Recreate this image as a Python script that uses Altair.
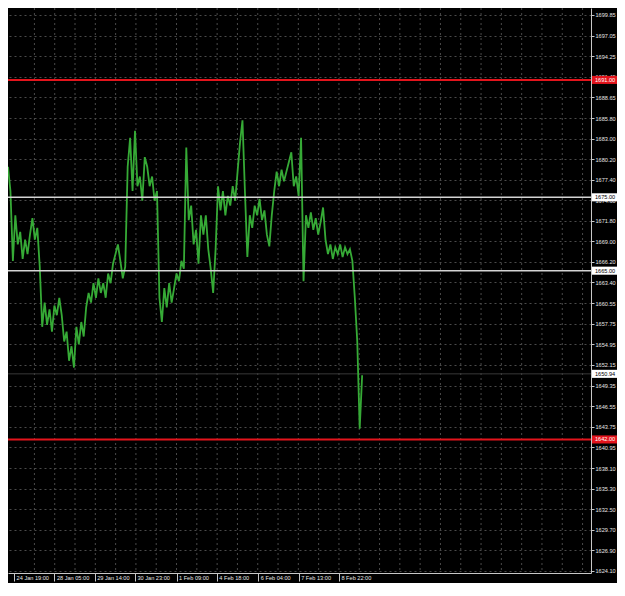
import altair as alt
import pandas as pd

prices = [
    1679.16, 1675.85, 1666.34, 1672.55, 1668.58, 1670.30, 1666.60, 1669.24, 1667.26, 1669.91,
    1672.15, 1669.24, 1670.83, 1665.54, 1657.35, 1660.65, 1657.61, 1659.73, 1656.69, 1660.26,
    1658.93, 1661.31, 1658.93, 1655.36, 1656.69, 1652.72, 1654.70, 1651.80, 1657.35, 1654.97,
    1658.01, 1656.03, 1659.99, 1661.97, 1660.65, 1663.30, 1661.31, 1663.96, 1661.97, 1663.30,
    1661.31, 1664.62, 1663.30, 1665.94, 1667.26, 1668.58, 1666.34, 1663.96, 1665.54, 1679.16,
    1683.12, 1675.85, 1684.05, 1676.51, 1677.84, 1674.53, 1680.48, 1679.16, 1676.51, 1677.84,
    1674.53, 1675.85, 1661.31, 1658.01, 1662.63, 1659.99, 1663.30, 1660.65, 1662.63, 1664.62,
    1663.56, 1666.34, 1665.28, 1681.80, 1671.89, 1673.87, 1668.58, 1670.57, 1665.94, 1672.55,
    1669.91, 1672.55, 1667.92, 1665.28, 1661.97, 1667.92, 1676.51, 1673.21, 1675.85, 1672.55,
    1675.19, 1673.87, 1676.51, 1674.53, 1678.50, 1682.46, 1685.50, 1675.85, 1666.86, 1672.55,
    1670.83, 1673.87, 1672.55, 1674.80, 1671.89, 1673.21, 1669.91, 1668.32, 1672.55, 1675.85,
    1678.50, 1676.51, 1678.76, 1677.18, 1678.50, 1679.82, 1681.14, 1676.51, 1677.84, 1675.19,
    1683.12, 1663.56, 1672.55, 1670.83, 1672.95, 1670.57, 1672.15, 1669.91, 1671.62, 1673.61,
    1669.24, 1667.26, 1668.58, 1666.60, 1668.19, 1667.26, 1668.58, 1666.86, 1668.19, 1667.26,
    1667.92, 1666.34, 1661.31, 1655.36, 1643.47, 1650.74,
]
bar_step = 2  # bars between samples

label_bars = [5, 38, 71, 104, 138, 171, 205, 238, 271]
label_texts = ["24 Jan 19:00", "28 Jan 05:00", "29 Jan 14:00", "30 Jan 23:00",
               "1 Feb 09:00", "4 Feb 18:00", "6 Feb 04:00", "7 Feb 13:00", "8 Feb 22:00"]

y_ticks = [1699.85, 1697.05, 1694.25, 1691.45, 1688.65, 1685.80, 1683.00, 1680.20,
           1677.40, 1674.60, 1671.80, 1669.00, 1666.20, 1663.40, 1660.55, 1657.75,
           1654.95, 1652.15, 1649.35, 1646.55, 1643.75, 1640.95, 1638.10, 1635.30,
           1632.50, 1629.70, 1626.90, 1624.10]

red_levels = [1691.00, 1642.00]
white_levels = [1675.00, 1665.00]
last_price = 1650.94

x_domain = [0, 477.4]
y_domain = [1623.8, 1700.8]

# ---- tables ----
df = pd.DataFrame({"bar": [i * bar_step for i in range(len(prices))], "price": prices})

half = (label_bars[-1] - label_bars[0]) / (len(label_bars) - 1) / 2
grid_bars = []
g = label_bars[0] + half
while g <= x_domain[1]:
    grid_bars.append(g)
    g += half
grid_df = pd.DataFrame({"bar": grid_bars})

red_df = pd.DataFrame({"price": red_levels})
white_df = pd.DataFrame({"price": white_levels})
bid_df = pd.DataFrame({"price": [last_price]})
box_df = pd.DataFrame({
    "price": red_levels + white_levels + [last_price],
    "kind": ["red"] * len(red_levels) + ["white"] * (len(white_levels) + 1),
})

label_expr = " : ".join(
    f"datum.value == {b} ? '{t}'" for b, t in zip(label_bars, label_texts)
) + " : ''"

FONT = "Liberation Sans"
FS = 5.6
W, H = 583, 565
PAD_R, PAD_B = 26, 10

x_scale = alt.Scale(domain=x_domain, nice=False, zero=False)
y_scale = alt.Scale(domain=y_domain, nice=False, zero=False)

x_axis = alt.Axis(
    orient="bottom", values=label_bars, labelExpr=label_expr, grid=False, title=None,
    domainColor="#c8c8c8", tickColor="#c8c8c8", tickSize=8,
    labelAlign="left", labelBaseline="top", labelPadding=-6, labelOffset=2,
    labelFont=FONT, labelFontSize=FS, labelColor="#e6e6e6",
    labelOverlap=False, labelFlush=False,
)
y_axis = alt.Axis(
    orient="right", values=y_ticks, format=".2f", title=None,
    grid=True, gridColor="#4a4a4a", gridDash=[2, 3], gridWidth=1,
    domainColor="#c8c8c8", tickColor="#c8c8c8", tickSize=3, labelPadding=1,
    labelFont=FONT, labelFontSize=FS, labelColor="#e6e6e6",
    labelOverlap=False, labelFlush=False, labelBaseline="middle", labelSeparation=0,
)

vgrid = alt.Chart(grid_df).mark_rule(color="#4a4a4a", strokeDash=[2, 3], strokeWidth=1).encode(
    x=alt.X("bar:Q", scale=x_scale, axis=x_axis),
)

bid = alt.Chart(bid_df).mark_rule(color="#383838", strokeWidth=1).encode(
    y=alt.Y("price:Q", scale=y_scale, axis=y_axis),
)

line = alt.Chart(df).mark_line(color="#36aa36", strokeWidth=1.8, clip=True).encode(
    x=alt.X("bar:Q", scale=x_scale, axis=x_axis),
    y=alt.Y("price:Q", scale=y_scale, axis=y_axis),
)

white_rules = alt.Chart(white_df).mark_rule(color="#d4d4d4", strokeWidth=1.5).encode(
    y=alt.Y("price:Q", scale=y_scale, axis=y_axis),
)
red_rules = alt.Chart(red_df).mark_rule(color="#e3141c", strokeWidth=2).encode(
    y=alt.Y("price:Q", scale=y_scale, axis=y_axis),
)

boxes = alt.Chart(box_df).transform_calculate(
    lo="datum.price - 0.55", hi="datum.price + 0.55"
).mark_rect().encode(
    x=alt.value(W + 1), x2=alt.value(W + PAD_R),
    y=alt.Y("lo:Q", scale=y_scale, axis=y_axis), y2="hi:Q",
    color=alt.Color("kind:N", scale=alt.Scale(domain=["red", "white"], range=["#e3141c", "#ffffff"]), legend=None),
)
box_text = alt.Chart(box_df).mark_text(
    align="left", baseline="middle", font=FONT, fontSize=FS
).encode(
    x=alt.value(W + 4),
    y=alt.Y("price:Q", scale=y_scale, axis=y_axis),
    text=alt.Text("price:Q", format=".2f"),
    color=alt.Color("kind:N", scale=alt.Scale(domain=["red", "white"], range=["#ffffff", "#000000"]), legend=None),
)

chart = alt.layer(vgrid, bid, line, white_rules, red_rules, boxes, box_text).resolve_scale(
    color="independent"
).properties(
    width=W, height=H,
    autosize=alt.AutoSizeParams(type="none"),
    padding={"left": 0, "top": 0, "right": PAD_R, "bottom": PAD_B},
    background="#000000",
).configure_view(stroke=None).configure_axis(labelOverlap=False)

chart.save("out.html", embed_options={"renderer": "svg", "actions": False})
